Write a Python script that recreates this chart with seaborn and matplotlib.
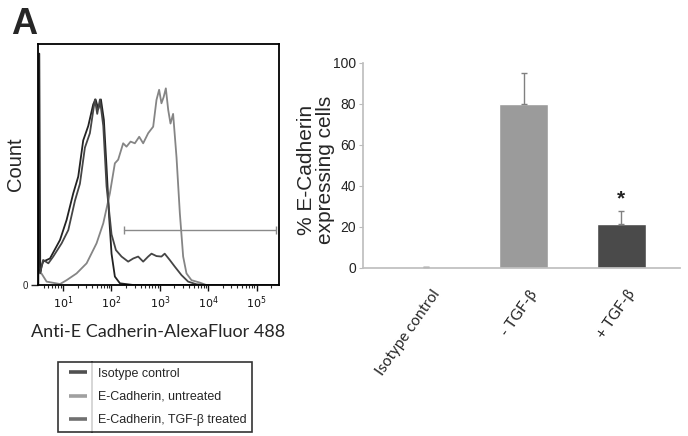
import numpy as np
import pandas as pd
import matplotlib
matplotlib.use("Agg")
import matplotlib.pyplot as plt
import matplotlib.transforms as mtransforms
from matplotlib.lines import Line2D
from matplotlib.ticker import LogLocator, NullFormatter, FixedLocator
import seaborn as sns

# ---------------- data ----------------
# Flow cytometry histograms (fluorescence intensity, count as % of axis height)
iso_x = [3.1, 3.25, 3.4, 3.6, 3.9, 5.4, 8.7, 11.9, 16.3, 20.7, 26.2, 33.3, 42.2, 47.2,
         53.6, 60.8, 70, 79.4, 90, 100.7, 118, 150, 282, 1000, 10000, 280000]
iso_y = [0, 96, 5, 7.6, 9.7, 11, 18.7, 27, 38, 45, 60, 66, 75, 77,
         73, 77, 68.5, 49, 28, 13, 3.5, 0.7, 0, 0, 0, 0]

trt_x = [3.37, 3.9, 5.0, 6.3, 9.4, 12.9, 17.7, 22.4, 28.4, 36, 45.7, 51, 58, 68, 79.4,
         100.7, 124, 162, 222, 282, 357, 453, 575, 673, 853, 1080, 1260, 1600, 2040,
         2800, 3840, 5700, 9100, 280000]
trt_y = [4.8, 10.4, 9, 11.8, 17.3, 22.8, 35, 42, 57, 63, 77, 71, 77, 66, 41,
         21, 14.5, 11.8, 9.7, 11, 11.8, 9.7, 11.8, 13, 12, 11.8, 13, 10.4, 7.6,
         4.1, 1.4, 0.3, 0, 0]

unt_x = [3.6, 4.6, 8.7, 11.9, 19.1, 30.8, 49.4, 68, 93, 118, 138, 175, 205, 249, 305,
         375, 453, 575, 729, 853, 967, 1080, 1200, 1330, 1490, 1660, 1880, 2210, 2590,
         3030, 3550, 4500, 6680, 9100, 280000]
unt_y = [4.8, 1.4, 0.4, 2, 4.8, 9, 17.3, 25.6, 38, 50.5, 52, 58.8, 57.4, 59.5, 58.8,
         61.5, 58.8, 63, 65.7, 76.8, 81, 75.4, 78, 81.6, 72.6, 67, 71, 53, 29.7,
         11.8, 4.8, 2, 1, 0, 0]

series_names = ["Isotype control", "E-Cadherin, untreated", "E-Cadherin, TGF-\u03b2 treated"]
series_colors = ["#222222", "#858585", "#454545"]
legend_colors = ["#505050", "#a0a0a0", "#707070"]

gate_x = [184, 245000]
gate_y = 23

# Bar chart
categories = ["Isotype control", "- TGF-\u03b2", "+ TGF-\u03b2"]
pct_values = [0.4, 80.0, 21.5]
pct_err = [0.0, 14.8, 6.3]
bar_colors = ["#7a7a7a", "#9b9b9b", "#4a4a4a"]

# ---------------- figure ----------------
sns.set_theme(style="white")
plt.rcParams["font.family"] = ["Liberation Sans", "DejaVu Sans"]

fig = plt.figure(figsize=(6.88, 4.36), dpi=100)
W, H = 688, 436

def px(x0, y0, x1, y1):
    return [x0 / W, 1 - y1 / H, (x1 - x0) / W, (y1 - y0) / H]

# ---- left: histogram ----
ax1 = fig.add_axes(px(38, 44, 279, 285))
df = pd.concat([
    pd.DataFrame({"fl": iso_x, "count": iso_y, "sample": series_names[0]}),
    pd.DataFrame({"fl": unt_x, "count": unt_y, "sample": series_names[1]}),
    pd.DataFrame({"fl": trt_x, "count": trt_y, "sample": series_names[2]}),
])
ax1.set_xscale("log")
sns.lineplot(data=df, x="fl", y="count", hue="sample", hue_order=series_names,
             palette=series_colors, estimator=None, sort=False, linewidth=1.3,
             legend=False, ax=ax1)
ax1.plot(gate_x, [gate_y, gate_y], color="#8a8a8a", lw=1.0, marker="|",
         markersize=6, markeredgewidth=1.0)
ax1.set_xlim(10 ** 0.485, 10 ** 5.46)
ax1.set_ylim(0, 100)
ax1.set_xlabel("Anti-E Cadherin-AlexaFluor 488", fontsize=13, family=["Lato", "DejaVu Sans"],
               labelpad=9)
ax1.set_ylabel("Count", fontsize=14.5)
ax1.yaxis.set_label_coords(-0.052, 0.5)
ax1.xaxis.set_major_locator(FixedLocator([10, 100, 1000, 10000, 100000]))
ax1.xaxis.set_minor_locator(LogLocator(base=10, subs=np.arange(2, 10), numticks=20))
ax1.xaxis.set_minor_formatter(NullFormatter())
ax1.set_xticklabels(["$10^1$", "$10^2$", "$10^3$", "$10^4$", "$10^5$"])
ax1.set_yticks([0])
ax1.set_yticklabels(["0"])
ax1.tick_params(axis="x", which="major", direction="out", length=4, width=1, bottom=True,
                labelsize=8, pad=3, colors="#111111")
ax1.tick_params(axis="x", which="minor", direction="out", length=2.5, width=0.8, bottom=True)
ax1.tick_params(axis="y", direction="out", length=5, width=1, left=True, labelsize=7, pad=2)
for s in ax1.spines.values():
    s.set_color("black")
    s.set_linewidth(1.3)
    s.set_visible(True)

fig.text(11 / W, 1 - 34 / H, "A", fontsize=26, fontweight="bold", ha="left", va="baseline")

# legend
handles = [Line2D([], [], color=c, marker="_", linestyle="none", markersize=13,
                  markeredgewidth=2.6) for c in legend_colors]
leg = fig.legend(handles, series_names, loc="upper left", bbox_to_anchor=(58 / W, 1 - 362 / H),
                 frameon=True, fancybox=False, edgecolor="black", fontsize=9,
                 handlelength=2.25, handletextpad=0.5, borderpad=0.45, labelspacing=0.9,
                 borderaxespad=0, numpoints=1)
leg.get_frame().set_linewidth(1.2)

# ---- right: bar chart ----
ax2 = fig.add_axes(px(363, 62.7, 680, 267.7))
sns.barplot(x=categories, y=pct_values, hue=categories, palette=bar_colors, order=categories,
            legend=False, width=0.5, ax=ax2, errorbar=None, saturation=1)
ax2.errorbar(range(len(categories)), pct_values, yerr=[[0] * 3, pct_err], fmt="none",
             ecolor="#808080", elinewidth=1.0, capsize=2.5, capthick=1.0)
ax2.text(2, pct_values[2] + pct_err[2] + 1.2, "*", ha="center", va="bottom",
         fontsize=15, fontweight="bold", color="#222222")
ax2.set_xlim(-0.645, 2.6)
ax2.set_ylim(0, 100)
ax2.set_yticks([0, 20, 40, 60, 80, 100])
ax2.set_ylabel("% E-Cadherin\nexpressing cells", fontsize=15, linespacing=1.0)
ax2.yaxis.set_label_coords(-0.088, 0.475)
ax2.tick_params(axis="y", direction="out", length=3, width=0.8, color="#bbbbbb",
                labelsize=10, pad=2, left=True, labelcolor="#222222")
ax2.tick_params(axis="x", length=0, pad=4)
sns.despine(ax=ax2)
ax2.spines["left"].set_color("#bfbfbf")
ax2.spines["bottom"].set_color("#bfbfbf")
ax2.set_xlabel("")
offset = mtransforms.ScaledTranslation(5 / 100, -14 / 100, fig.dpi_scale_trans)
for lbl in ax2.get_xticklabels():
    lbl.set_rotation(55)
    lbl.set_ha("right")
    lbl.set_va("top")
    lbl.set_rotation_mode("anchor")
    lbl.set_fontsize(11)
    lbl.set_family(["Lato", "DejaVu Sans"])
    lbl.set_transform(lbl.get_transform() + offset)

# divider line inside legend box
fig.canvas.draw()
fb = leg.get_frame().get_window_extent()
fig.add_artist(Line2D([92 / W, 92 / W], [fb.y0 / H, fb.y1 / H], color="black", lw=1.1))

fig.savefig("out.png", dpi=100)
